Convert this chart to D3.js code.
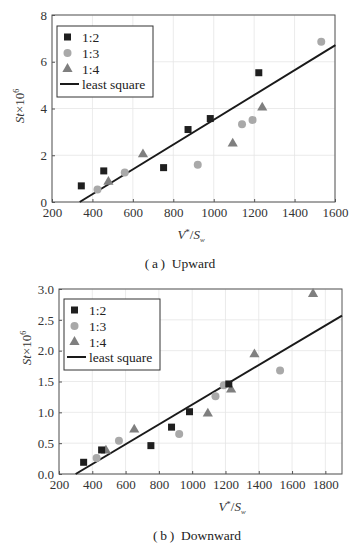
<!DOCTYPE html>
<html>
<head>
<meta charset="utf-8">
<script src="https://cdn.jsdelivr.net/npm/d3@7"></script>
<style>
  body { margin: 0; background: #fff; }
  svg, svg text { font-family: "Liberation Serif", "Times New Roman", "DejaVu Serif", serif; }
</style>
</head>
<body>
<svg id="chart" width="352" height="549"></svg>
<script>
// panel (a) upward
const upSq   = [[345, 0.69], [456, 1.33], [752, 1.47], [873, 3.10], [983, 3.57], [1223, 5.53]];
const upCirc = [[425, 0.54], [560, 1.26], [921, 1.59], [1140, 3.33], [1192, 3.51], [1532, 6.86]];
const upTri  = [[479, 0.86], [650, 2.04], [1094, 2.50], [1240, 4.04]];
const upFit  = [[337, 0], [1602, 6.71]];
const upXTicks = [200, 400, 600, 800, 1000, 1200, 1400, 1600];
const upYTicks = [0, 2, 4, 6, 8];

// panel (b) downward
const dnSq   = [[348, 0.19], [456, 0.39], [752, 0.46], [876, 0.76], [984, 1.01], [1220, 1.46]];
const dnCirc = [[426, 0.26], [560, 0.54], [922, 0.65], [1140, 1.26], [1190, 1.44], [1528, 1.68]];
const dnTri  = [[482, 0.38], [652, 0.72], [1094, 0.98], [1234, 1.37], [1374, 1.94], [1726, 2.92]];
const dnFit  = [[300, 0], [1900, 2.57]];
const dnXTicks = [200, 400, 600, 800, 1000, 1200, 1400, 1600, 1800];
const dnYTicks = [0, 0.5, 1.0, 1.5, 2.0, 2.5, 3.0];

const legendLabels = ["1:2", "1:3", "1:4", "least square"];

const svg = d3.select("#chart");
const FONT = "'Liberation Serif', 'Times New Roman', serif";

function panel(opt) {
  const g = svg.append("g");
  const x = d3.scaleLinear().domain(opt.xDomain).range([opt.left, opt.right]);
  const y = d3.scaleLinear().domain(opt.yDomain).range([opt.bottom, opt.top]);

  // faint grid
  g.append("g").selectAll("line").data(opt.xTicks).join("line")
    .attr("x1", d => x(d)).attr("x2", d => x(d))
    .attr("y1", opt.top).attr("y2", opt.bottom)
    .attr("stroke", "#e6e6e6").attr("stroke-width", 0.8);
  g.append("g").selectAll("line").data(opt.yTicks).join("line")
    .attr("x1", opt.left).attr("x2", opt.right)
    .attr("y1", d => y(d)).attr("y2", d => y(d))
    .attr("stroke", "#e6e6e6").attr("stroke-width", 0.8);

  // axes
  g.append("g")
    .attr("transform", `translate(0,${opt.bottom})`)
    .call(d3.axisBottom(x).tickValues(opt.xTicks).tickSize(-3).tickPadding(6).tickFormat(d3.format("d")))
    .attr("font-family", FONT)
    .call(a => a.select(".domain").remove())
    .call(a => a.selectAll("text").attr("font-size", 13).attr("fill", "#333"))
    .call(a => a.selectAll(".tick line").attr("stroke", "#555"));
  g.append("g")
    .attr("transform", `translate(${opt.left},0)`)
    .call(d3.axisLeft(y).tickValues(opt.yTicks).tickSize(-3).tickPadding(5).tickFormat(opt.yFmt))
    .attr("font-family", FONT)
    .call(a => a.select(".domain").remove())
    .call(a => a.selectAll("text").attr("font-size", 13).attr("fill", "#333"))
    .call(a => a.selectAll(".tick line").attr("stroke", "#555"));

  g.append("rect")
    .attr("x", opt.left).attr("y", opt.top)
    .attr("width", opt.right - opt.left).attr("height", opt.bottom - opt.top)
    .attr("fill", "none").attr("stroke", "#555").attr("stroke-width", 1);

  // least square line
  g.append("path")
    .datum(opt.fit)
    .attr("fill", "none").attr("stroke", "#1a1a1a").attr("stroke-width", 2)
    .attr("d", d3.line().x(d => x(d[0])).y(d => y(d[1])));

  const sym = d3.symbol();
  g.append("g").selectAll("path").data(opt.tri).join("path")
    .attr("transform", d => `translate(${x(d[0])},${y(d[1])})`)
    .attr("d", sym.type(d3.symbolTriangle).size(45)())
    .attr("fill", "#7f7f7f");
  g.append("g").selectAll("circle").data(opt.circ).join("circle")
    .attr("cx", d => x(d[0])).attr("cy", d => y(d[1])).attr("r", 4)
    .attr("fill", "#a9a9a9");
  g.append("g").selectAll("rect").data(opt.sq).join("rect")
    .attr("x", d => x(d[0]) - 3.5).attr("y", d => y(d[1]) - 3.5)
    .attr("width", 7).attr("height", 7)
    .attr("fill", "#1f1f1f");

  // legend
  const L = opt.legend;
  const lg = g.append("g").attr("transform", `translate(${L.x},${L.y})`);
  lg.append("rect").attr("width", 96).attr("height", 71)
    .attr("fill", "#fff").attr("stroke", "#333").attr("stroke-width", 1);
  const rowY = [11, 27, 43, 58];
  lg.append("rect").attr("x", 7).attr("y", rowY[0] - 3.5).attr("width", 7).attr("height", 7).attr("fill", "#1f1f1f");
  lg.append("circle").attr("cx", 10.5).attr("cy", rowY[1]).attr("r", 4).attr("fill", "#a9a9a9");
  lg.append("path").attr("transform", `translate(10.5,${rowY[2]})`)
    .attr("d", d3.symbol().type(d3.symbolTriangle).size(45)()).attr("fill", "#7f7f7f");
  lg.append("line").attr("x1", 3).attr("x2", 22).attr("y1", rowY[3]).attr("y2", rowY[3])
    .attr("stroke", "#1a1a1a").attr("stroke-width", 2);
  lg.selectAll("text.lab").data(legendLabels).join("text")
    .attr("class", "lab")
    .attr("x", 25)
    .attr("y", (d, i) => rowY[i] + 4.5)
    .attr("font-size", 13.5).attr("fill", "#222")
    .text(d => d);

  // y label
  const yl = g.append("text")
    .attr("transform", `translate(${opt.yLabelX},${opt.yLabelY}) rotate(-90)`)
    .attr("text-anchor", "middle").attr("font-size", 13).attr("fill", "#333");
  yl.append("tspan").attr("font-style", "italic").text("St");
  yl.append("tspan").text("×10");
  yl.append("tspan").attr("font-size", 8).attr("dy", -5).text("6");

  // x label
  const xl = g.append("text")
    .attr("x", opt.xLabelX).attr("y", opt.bottom + 37)
    .attr("text-anchor", "middle").attr("font-size", 13).attr("fill", "#333");
  xl.append("tspan").attr("font-style", "italic").text("V");
  xl.append("tspan").attr("font-size", 9).attr("dy", -4).text("*");
  xl.append("tspan").attr("dy", 4).text("/");
  xl.append("tspan").attr("font-style", "italic").text("S");
  xl.append("tspan").attr("font-size", 7).attr("dy", 3).attr("font-style", "italic").text("w");

  svg.append("text")
    .attr("x", opt.capX).attr("y", opt.capY)
    .attr("text-anchor", "middle").attr("font-size", 13.5).attr("fill", "#222")
    .text(opt.caption);
}

panel({
  xDomain: [200, 1600], yDomain: [0, 8],
  left: 52, right: 335, top: 15, bottom: 202,
  xTicks: upXTicks, yTicks: upYTicks, yFmt: d3.format("d"),
  sq: upSq, circ: upCirc, tri: upTri, fit: upFit,
  legend: { x: 57, y: 26 },
  yLabelX: 24, yLabelY: 106, xLabelX: 191,
  capX: 180, capY: 268, caption: "(\u2009a\u2009)\u2002Upward"
});

panel({
  xDomain: [200, 1900], yDomain: [0, 3],
  left: 59, right: 342, top: 289, bottom: 474,
  xTicks: dnXTicks, yTicks: dnYTicks, yFmt: d3.format(".1f"),
  sq: dnSq, circ: dnCirc, tri: dnTri, fit: dnFit,
  legend: { x: 64, y: 299 },
  yLabelX: 31, yLabelY: 348, xLabelX: 232,
  capX: 197, capY: 540, caption: "(\u2009b\u2009)\u2002Downward"
});
</script>
</body>
</html>
